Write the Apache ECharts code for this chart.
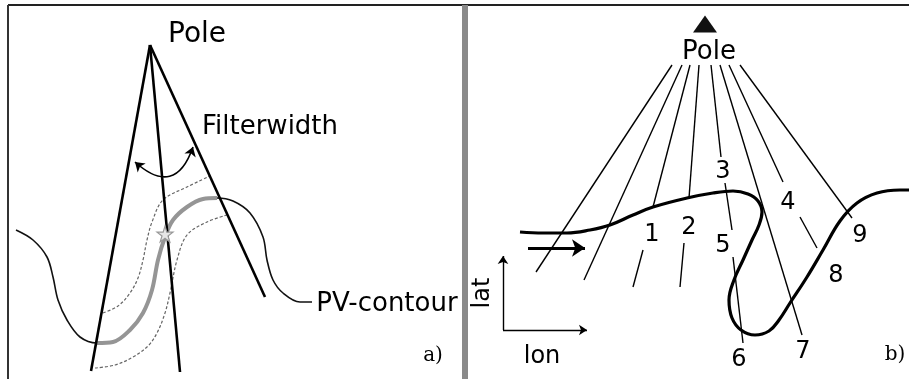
<!DOCTYPE html>
<html lang="en">
<head>
<meta charset="UTF-8">
<title>Pole filter sketch</title>
<script src="https://cdn.jsdelivr.net/npm/echarts@6/dist/echarts.min.js"></script>
<style>
  html, body { margin: 0; padding: 0; background: #fff; }
  #chart { width: 909px; height: 379px; }
</style>
</head>
<body>
<div id="chart"></div>
<script>
// everything is in picture space: x to the right, y downward (yAxis inverse)

// panel a)
const apexA = [150, 45];
const rayEndsA = [[91, 371], [180, 372], [265, 297]];
const contourA = [[16, 230], [33, 240], [47, 257], [53, 277], [58, 300], [67, 320], [80, 337], [97, 343],
  [113, 342], [130, 330], [143, 313], [152, 290], [158, 260], [165, 237], [173, 220], [187, 207],
  [203, 199], [217, 198], [233, 201], [250, 213], [263, 237], [267, 260], [273, 280], [283, 293],
  [300, 302], [312, 302]];
const highlightA = [[97, 343], [113, 342], [130, 330], [143, 313], [152, 290], [158, 260], [165, 237],
  [173, 220], [187, 207], [203, 199], [217, 198]];
const dashUpperA = [[103, 313], [118, 306], [130, 293], [138, 278], [143, 260], [147, 240], [152, 222],
  [163, 200], [187, 187], [210, 176]];
const dashLowerA = [[95, 368], [115, 365], [133, 357], [148, 346], [157, 333], [165, 313], [170, 293],
  [177, 260], [187, 235], [207, 222], [227, 215]];
const starA = [165, 234];
const filterArrowA = [[135, 162], [193, 147]];

// panel b)
const poleMarkB = [705, 24];
const raySegmentsB = [
  [[672, 65], [536, 272]],
  [[682, 65], [584, 280]],
  [[690, 65], [653, 207]], [[643, 250], [633, 287]],
  [[699, 65], [689, 198]], [[684, 243], [680, 287]],
  [[711, 65], [721, 157]], [[725, 183], [732, 230]], [[733, 257], [743, 343]],
  [[720, 65], [802, 335]],
  [[729, 65], [783, 182]], [[800, 217], [817, 248]],
  [[740, 65], [852, 218]]
];
const rayNumbers = ['1', '2', '3', '4', '5', '6', '7', '8', '9'];
const rayNumberPos = [[652, 235], [689, 228], [723, 172], [788, 203], [723, 246], [739, 360],
  [803, 352], [836, 276], [860, 236]];
const contourB = [[520, 232], [543, 233], [567, 233], [590, 230], [610, 225], [633, 215], [653, 207],
  [687, 198], [713, 193], [733, 191], [748, 194], [758, 201], [762, 212], [759, 225], [752, 240],
  [743, 260], [734, 280], [729, 300], [732, 318], [741, 330], [755, 335], [769, 331], [779, 320],
  [790, 303], [807, 277], [823, 250], [840, 221], [857, 203], [877, 193], [900, 190], [910, 190]];
const flowArrowB = [[528, 248], [585, 248]];
const latArrowB = [[503, 330], [503, 256]];
const lonArrowB = [[503, 330], [587, 330]];

// frame
const frameTop = [[8, 5], [909, 5]];
const frameLeft = [[8, 5], [8, 379]];
const divider = [[465, 5], [465, 379]];

const starPath = 'path://M50,0 L61,35 L98,35 L68,57 L79,91 L50,70 L21,91 L32,57 L2,35 L39,35 Z';
const sans = '"DejaVu Sans", sans-serif';
const serif = '"DejaVu Serif", serif';

function curve(data, width, color, extra) {
  return Object.assign({
    type: 'line', data: data, symbol: 'none', smooth: 0.35, silent: true,
    lineStyle: { width: width, color: color, opacity: 1 }, z: 3
  }, extra || {});
}

function segs(list, width, extra) {
  return Object.assign({
    type: 'lines', coordinateSystem: 'cartesian2d', silent: true, z: 5,
    lineStyle: { width: width, color: '#000', opacity: 1 },
    data: list.map(c => ({ coords: c }))
  }, extra || {});
}

function label(text, pos, size, font, extra) {
  return {
    value: pos, name: text,
    label: Object.assign({ show: true, formatter: '{b}', position: 'inside',
      fontSize: size, fontFamily: font, color: '#000', opacity: 1 }, extra || {})
  };
}

const series = [];

// frame pieces
series.push(curve(frameTop, 2, '#222', { smooth: false }));
series.push(curve(frameLeft, 2, '#333', { smooth: false }));
series.push(curve(divider, 6, '#8a8a8a', { smooth: false }));

// panel a
series.push(curve(contourA, 1.6, '#111'));
series.push(curve(highlightA, 4, '#959595', { z: 4 }));
series.push(curve(dashUpperA, 1.2, '#666', { lineStyle: { width: 1.2, color: '#666', type: [3, 2] } }));
series.push(curve(dashLowerA, 1.2, '#666', { lineStyle: { width: 1.2, color: '#666', type: [3, 2] } }));
series.push(segs(rayEndsA.map(e => [apexA, e]), 2.6));
series.push(segs([filterArrowA], 1.6, {
  symbol: ['arrow', 'arrow'], symbolSize: 9,
  lineStyle: { width: 1.6, color: '#000', opacity: 1, curveness: -0.75 }
}));
series.push({
  type: 'scatter', silent: true, z: 6,
  symbol: starPath, symbolSize: 16,
  itemStyle: { color: '#e6e6e6', borderColor: '#999', borderWidth: 1.2, opacity: 1 },
  data: [starA]
});

// panel b
series.push(segs(raySegmentsB, 1.4, { z: 3 }));
series.push(curve(contourB, 3.2, '#000', { z: 4, smooth: 0.4 }));
series.push(segs([flowArrowB], 3, { symbol: ['none', 'arrow'], symbolSize: [12, 13] }));
series.push(segs([latArrowB, lonArrowB], 1.4, { symbol: ['none', 'arrow'], symbolSize: 8 }));
series.push({
  type: 'scatter', silent: true, z: 6,
  symbol: 'triangle', symbolSize: [24, 17],
  itemStyle: { color: '#111', opacity: 1 },
  data: [poleMarkB]
});

// text
series.push({
  type: 'scatter', silent: true, z: 7, symbolSize: 1,
  itemStyle: { color: 'transparent', opacity: 1 },
  data: [
    label('Pole', [197, 35], 28, sans),
    label('Filterwidth', [270, 127], 26, sans),
    label('PV-contour', [387, 304], 26, sans),
    label('a)', [433, 356], 20, serif),
    label('Pole', [709, 52], 26, sans),
    label('lon', [542, 357], 24, sans),
    label('lat', [483, 293], 24, sans, { rotate: 90 }),
    label('b)', [895, 355], 20, serif)
  ].concat(rayNumbers.map((n, i) => label(n, rayNumberPos[i], 24, sans)))
});

const chart = echarts.init(document.getElementById('chart'));
chart.setOption({
  animation: false,
  backgroundColor: '#fff',
  grid: { left: 0, right: 0, top: 0, bottom: 0 },
  xAxis: { type: 'value', min: 0, max: 909, show: false },
  yAxis: { type: 'value', min: 0, max: 379, inverse: true, show: false },
  series: series
});
</script>
</body>
</html>
